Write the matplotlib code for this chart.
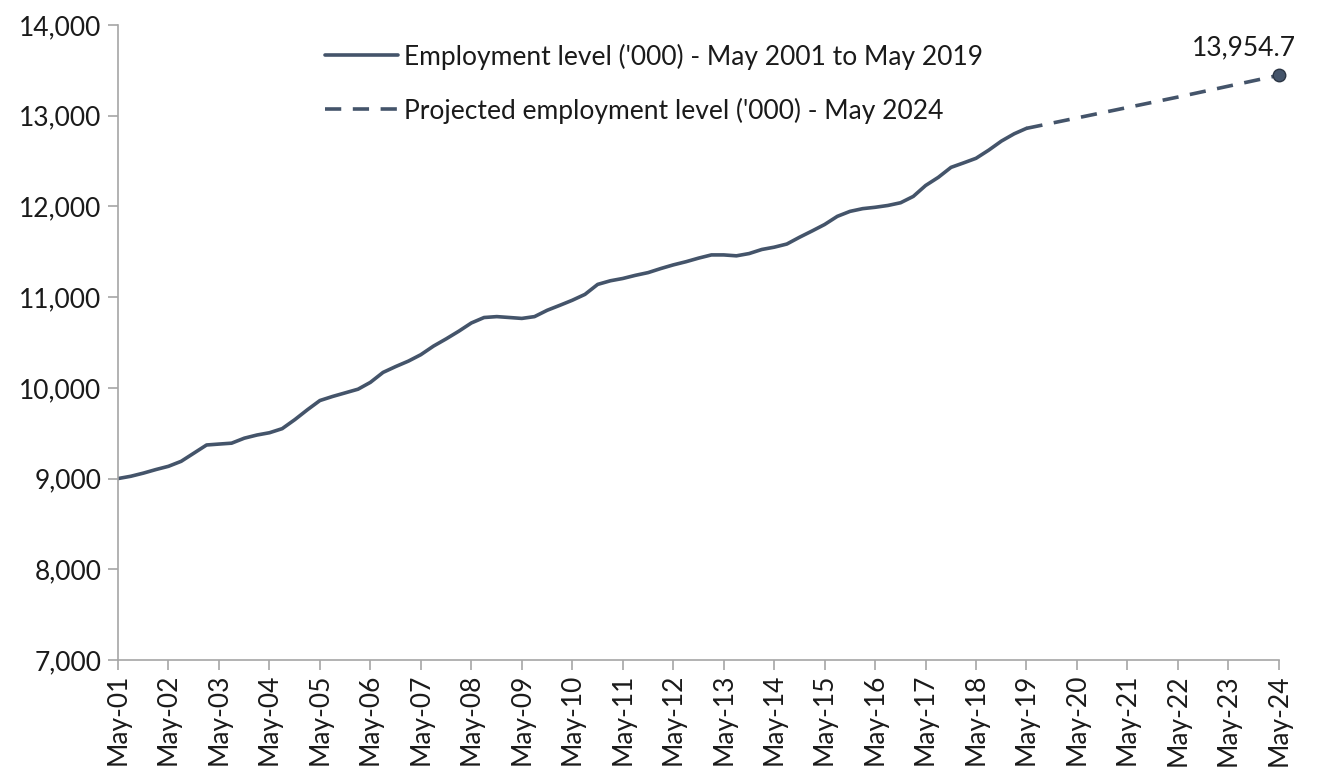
import matplotlib
matplotlib.use("Agg")
import matplotlib.pyplot as plt
import matplotlib.dates as mdates
import matplotlib.ticker as mticker
import pandas as pd

# Employment level ('000), quarterly reading May-01 .. May-19
hist_dates = pd.date_range("2001-05-01", "2019-05-01", freq="3MS")
hist_values = [
    9000, 9025, 9060, 9100, 9135, 9190, 9280, 9370, 9380, 9390,
    9445, 9480, 9505, 9550, 9650, 9760, 9860, 9905, 9945, 9985,
    10060, 10170, 10235, 10295, 10365, 10460, 10540, 10625, 10715, 10775,
    10785, 10775, 10765, 10785, 10855, 10910, 10965, 11030, 11140, 11180,
    11205, 11240, 11270, 11315, 11355, 11390, 11430, 11465, 11465, 11455,
    11480, 11525, 11550, 11585, 11660, 11730, 11800, 11890, 11945, 11975,
    11990, 12010, 12040, 12110, 12230, 12320, 12430, 12480, 12530, 12620,
    12720, 12800, 12860,
]

# Projection, May-19 .. May-24
proj_dates = pd.date_range("2019-05-01", "2024-05-01", freq="12MS")
proj_values = [12860, 12975, 13090, 13205, 13325, 13445]
end_label = "13,954.7"

hist_label = "Employment level ('000) - May 2001 to May 2019"
proj_label = "Projected employment level ('000) - May 2024"

COLOR = "#44546A"
GREY = "#A6A6A6"

plt.rcParams["font.family"] = ["Lato", "DejaVu Sans"]


def main():
    fig = plt.figure(figsize=(13.2, 7.67), dpi=100)
    ax = fig.add_axes([0.0894, 0.1395, 0.8795, 0.828])

    ax.plot(hist_dates, hist_values, color=COLOR, lw=2.6,
            solid_capstyle="round", solid_joinstyle="round", label=hist_label)
    ax.plot(proj_dates, proj_values, color=COLOR, lw=2.6,
            dashes=(4.5, 3.2), label=proj_label)
    ax.plot(proj_dates[-1], proj_values[-1], "o", ms=9, clip_on=False,
            markerfacecolor=COLOR, markeredgecolor="#2b3544", mew=1.0,
            zorder=5)
    ax.annotate(end_label, (proj_dates[-1], proj_values[-1]),
                xytext=(-25, 11), textcoords="offset points",
                ha="center", va="bottom", fontsize=19, color="#1a1a1a")

    ax.set_xlim(pd.Timestamp("2001-05-01"), pd.Timestamp("2024-05-01"))
    ax.set_ylim(7000, 14000)

    ax.xaxis.set_major_locator(mdates.MonthLocator(bymonth=5, bymonthday=1))
    ax.xaxis.set_major_formatter(mdates.DateFormatter("%b-%y"))
    ax.yaxis.set_major_locator(mticker.MultipleLocator(1000))
    ax.yaxis.set_major_formatter(mticker.StrMethodFormatter("{x:,.0f}"))

    for s in ["top", "right"]:
        ax.spines[s].set_visible(False)
    for s in ["left", "bottom"]:
        ax.spines[s].set_color(GREY)
        ax.spines[s].set_linewidth(1.2)

    ax.tick_params(axis="both", colors=GREY, length=7, width=1.2,
                   labelsize=19, labelcolor="#1a1a1a")
    ax.tick_params(axis="x", labelrotation=90, pad=3)
    ax.tick_params(axis="y", pad=5)

    ax.legend(loc="upper left", bbox_to_anchor=(0.158, 1.008), frameon=False,
              fontsize=19, handlelength=2.75, handletextpad=0.25,
              labelspacing=1.05, labelcolor="#1a1a1a")

    fig.savefig("out.png", dpi=100)


if __name__ == "__main__":
    main()
